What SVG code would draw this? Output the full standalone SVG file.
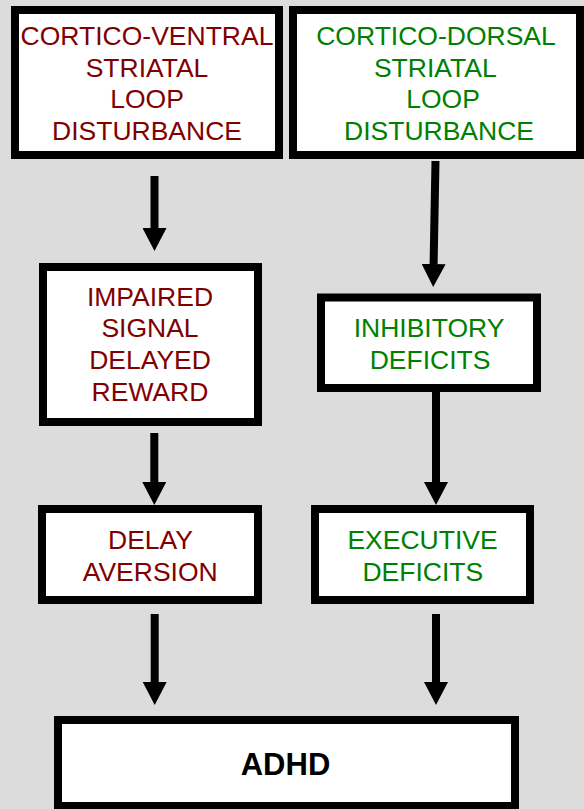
<svg xmlns="http://www.w3.org/2000/svg" width="584" height="809" viewBox="0 0 584 809">
<defs>
<style>
.box{fill:#ffffff;stroke:#000000;stroke-width:8}
.t{font-family:"Liberation Sans",Arial,sans-serif;font-size:26.5px;text-anchor:middle}
.red{fill:#800000}
.green{fill:#008000}
.bold{font-family:"Liberation Sans",Arial,sans-serif;font-size:31px;font-weight:bold;text-anchor:middle;fill:#000000}
.conn{stroke:#000000;stroke-width:8;fill:none;marker-end:url(#ah)}
</style>
<marker id="ah" markerUnits="userSpaceOnUse" markerWidth="23" markerHeight="24" viewBox="0 0 23 24" refX="0" refY="12" orient="auto">
<path d="M0,0 L23,12 L0,24 Z" fill="#000000"/>
</marker>
</defs>
<rect x="0" y="0" width="584" height="809" fill="#dcdcdc"/>
<g id="connectors">
<line class="conn" x1="154.5" y1="176" x2="154.5" y2="228"/>
<line class="conn" x1="435.5" y1="161" x2="433.6" y2="264"/>
<line class="conn" x1="154.3" y1="433" x2="154.3" y2="482"/>
<line class="conn" x1="436" y1="392" x2="436" y2="482"/>
<line class="conn" x1="154.7" y1="614" x2="154.7" y2="682"/>
<line class="conn" x1="436" y1="614" x2="436" y2="682"/>
</g>
<g id="node-ventral">
<rect class="box" x="15" y="10" width="264" height="145"/>
<text class="t red" x="147" y="45">CORTICO-VENTRAL</text>
<text class="t red" x="147" y="76.5">STRIATAL</text>
<text class="t red" x="147" y="108">LOOP</text>
<text class="t red" x="147" y="139.5">DISTURBANCE</text>
</g>
<g id="node-dorsal">
<rect class="box" x="293" y="10" width="287" height="145"/>
<text class="t green" x="436" y="45">CORTICO-DORSAL</text>
<text class="t green" x="435.3" y="76.5">STRIATAL</text>
<text class="t green" x="443" y="108">LOOP</text>
<text class="t green" x="439" y="139.5">DISTURBANCE</text>
</g>
<g id="node-impaired">
<rect class="box" x="43" y="267" width="215" height="155"/>
<text class="t red" x="150" y="305.7">IMPAIRED</text>
<text class="t red" x="150" y="337.3">SIGNAL</text>
<text class="t red" x="150" y="369.3">DELAYED</text>
<text class="t red" x="150" y="401">REWARD</text>
</g>
<g id="node-inhibitory">
<rect class="box" x="321" y="297.5" width="216" height="90.5"/>
<text class="t green" x="429" y="337.3">INHIBITORY</text>
<text class="t green" x="430" y="369">DEFICITS</text>
</g>
<g id="node-delay">
<rect class="box" x="42" y="509" width="216" height="91"/>
<text class="t red" x="150.5" y="549.3">DELAY</text>
<text class="t red" x="150.2" y="580.7">AVERSION</text>
</g>
<g id="node-executive">
<rect class="box" x="315" y="509" width="215" height="91"/>
<text class="t green" x="422.5" y="549.3">EXECUTIVE</text>
<text class="t green" x="422.8" y="580.7">DEFICITS</text>
</g>
<g id="node-adhd">
<rect class="box" x="58" y="720" width="457" height="86"/>
<text class="bold" x="285.5" y="775">ADHD</text>
</g>
</svg>
